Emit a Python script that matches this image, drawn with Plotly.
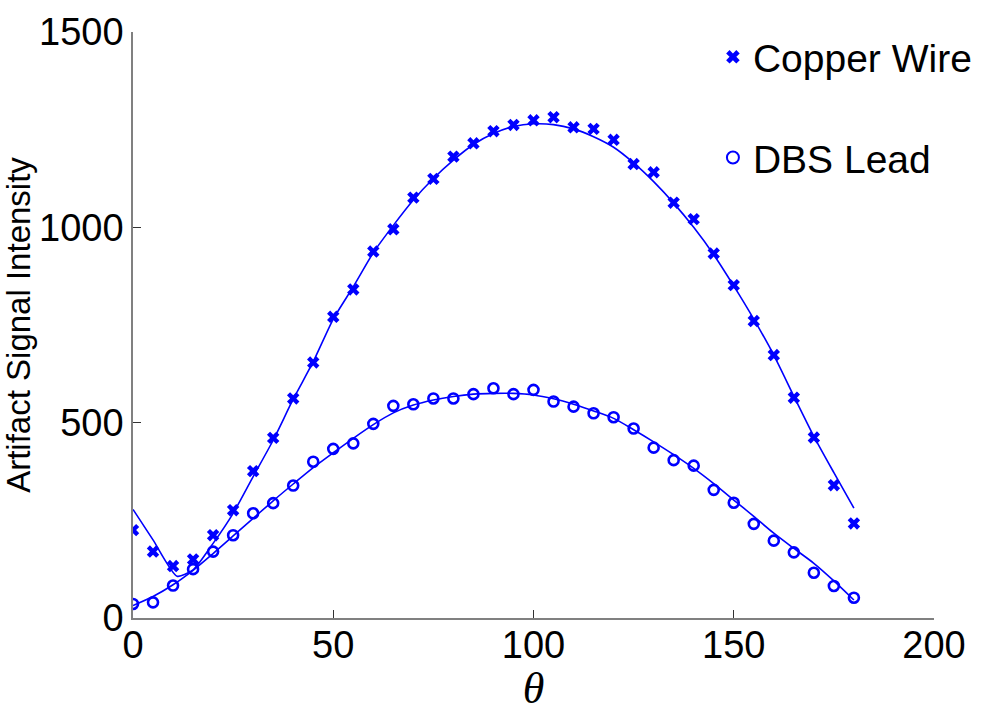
import plotly.graph_objects as go

# --- measured data (every 5 degrees) ---
theta = [0, 5, 10, 15, 20, 25, 30, 35, 40, 45, 50, 55, 60, 65, 70, 75, 80, 85, 90,
         95, 100, 105, 110, 115, 120, 125, 130, 135, 140, 145, 150, 155, 160, 165,
         170, 175, 180]
copper = [225, 170, 133, 150, 212, 276, 376, 461, 562, 654, 771, 841, 938, 995, 1076,
          1124, 1181, 1215, 1246, 1262, 1274, 1282, 1256, 1252, 1224, 1162, 1141, 1063,
          1021, 933, 852, 760, 673, 564, 462, 340, 242]
dbs = [36, 40, 83, 125, 170, 212, 268, 294, 339, 400, 433, 447, 497, 543, 547, 562,
       562, 573, 588, 573, 584, 554, 541, 524, 514, 485, 436, 404, 390, 328, 295, 241,
       198, 168, 116, 82, 52]

# --- fitted curves ---
copper_fit_x = [0, 5, 11, 15, 20, 25, 30, 35, 40, 45, 50, 55, 60, 65, 70, 75, 80, 85,
                90, 95, 100, 105, 110, 115, 120, 125, 130, 135, 140, 145, 150, 155, 160,
                165, 170, 175, 180]
copper_fit_y = [278, 200, 107, 123, 191, 268, 362, 455, 560, 656, 765, 848, 935, 1005,
                1070, 1125, 1172, 1212, 1240, 1258, 1265, 1263, 1252, 1232, 1205, 1165,
                1117, 1062, 1000, 930, 850, 765, 673, 568, 465, 372, 281]
dbs_fit_x = theta
dbs_fit_y = [32, 55, 85, 122, 165, 210, 255, 300, 343, 385, 423, 460, 495, 525, 545, 558,
             567, 573, 575, 575, 571, 561, 547, 530, 511, 482, 451, 418, 383, 344, 302,
             260, 217, 178, 140, 95, 46]

x_ticks = [0, 50, 100, 150, 200]
y_ticks = [0, 500, 1000, 1500]

BLUE = "#0000FF"
FONT = "Liberation Sans, Arial, sans-serif"

fig = go.Figure()
fig.add_trace(go.Scatter(x=copper_fit_x, y=copper_fit_y, mode="lines",
                         line=dict(color=BLUE, width=1.6, shape="spline", smoothing=0.6),
                         showlegend=False, hoverinfo="skip"))
fig.add_trace(go.Scatter(x=dbs_fit_x, y=dbs_fit_y, mode="lines",
                         line=dict(color=BLUE, width=1.6, shape="spline", smoothing=0.8),
                         showlegend=False, hoverinfo="skip"))
fig.add_trace(go.Scatter(x=theta, y=copper, mode="markers", name="Copper Wire",
                         legendgroup="a",
                         marker=dict(symbol="x", size=11, color=BLUE,
                                     line=dict(width=0))))
fig.add_trace(go.Scatter(x=theta, y=dbs, mode="markers", name="DBS Lead",
                         legendgroup="b",
                         marker=dict(symbol="circle-open", size=10, color=BLUE,
                                     line=dict(width=2.6, color=BLUE))))

fig.update_layout(
    width=986, height=713,
    margin=dict(l=133, r=52, t=32, b=95, autoexpand=False),
    paper_bgcolor="white", plot_bgcolor="white",
    font=dict(family=FONT, color="black"),
    showlegend=True,
    legend=dict(x=0.724, y=1.012, xanchor="left", yanchor="top",
                font=dict(size=39, family=FONT),
                bgcolor="rgba(0,0,0,0)", tracegroupgap=47,
                traceorder="grouped", itemsizing="constant"),
    xaxis=dict(range=[0, 200], tickvals=x_ticks, ticks="inside", ticklen=8,
               tickcolor="#333333", tickwidth=1.2, automargin=False,
               ticklabelstandoff=-8,
               showline=True, linecolor="#808080", linewidth=2,
               showgrid=False, zeroline=False,
               tickfont=dict(size=38, family=FONT),
               title=dict(text="θ", font=dict(size=44, family="Liberation Serif, Times New Roman, serif",
                                              style="italic"), standoff=6)),
    yaxis=dict(range=[0, 1500], tickvals=y_ticks, ticks="inside", ticklen=8,
               tickcolor="#333333", tickwidth=1.2, automargin=False,
               showline=True, linecolor="#808080", linewidth=1.5,
               showgrid=False, zeroline=False,
               tickfont=dict(size=38, family=FONT),
               title=dict(text="Artifact Signal Intensity", font=dict(size=33, family=FONT),
                          standoff=8)),
)

fig.write_html("out.html")
